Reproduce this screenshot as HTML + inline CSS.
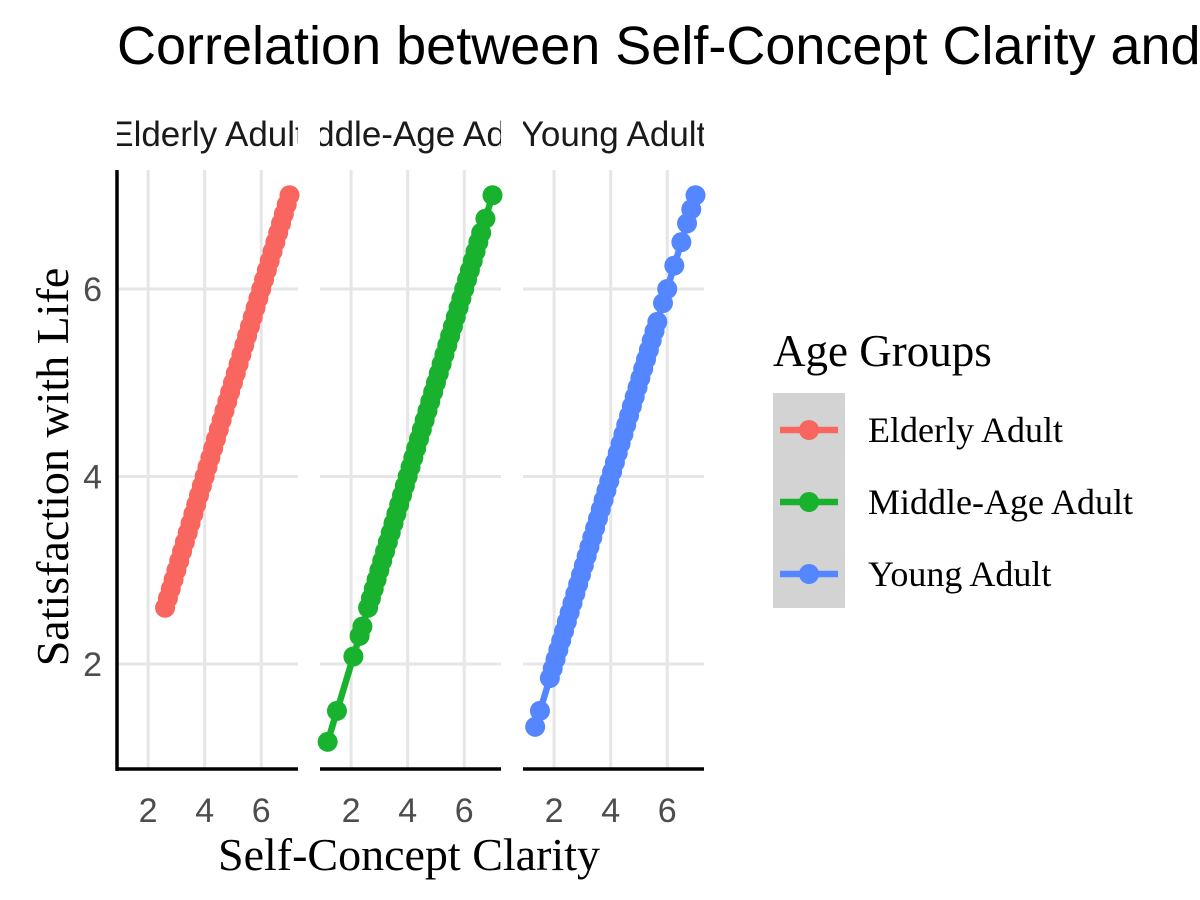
<!DOCTYPE html>
<html><head><meta charset="utf-8"><style>body{margin:0;background:#fff}svg{display:block}</style></head>
<body>
<svg id="chart" width="1200" height="900" xmlns="http://www.w3.org/2000/svg">
<defs>
<clipPath id="c0"><rect x="117" y="100" width="181" height="60"/></clipPath>
<clipPath id="c1"><rect x="320" y="100" width="181" height="60"/></clipPath>
<clipPath id="c2"><rect x="523" y="100" width="181" height="60"/></clipPath>
</defs>
<text x="117" y="64" font-family="Liberation Sans, sans-serif" font-size="54" fill="#000">Correlation between Self-Concept Clarity and Satisfaction with Life</text>
<g id="plot"></g>
<text transform="translate(68,467) rotate(-90)" text-anchor="middle" font-family="Liberation Serif, serif" font-size="46" fill="#000">Satisfaction with Life</text>
<text x="409" y="870" text-anchor="middle" font-family="Liberation Serif, serif" font-size="46" fill="#000">Self-Concept Clarity</text>
<g>
<text x="773" y="366" font-family="Liberation Serif, serif" font-size="45" fill="#000">Age Groups</text>
<rect x="773" y="393" width="72" height="215" fill="#d3d3d3"/>
<g id="legend-entries"></g>
</g>
</svg>
<script>
const panels = ["Elderly Adult","Middle-Age Adult","Young Adult"];
const colors = ["#F8665F","#19B22E","#5486FF"];
const xTicks = [2,4,6];
const yTicks = [2,4,6];
const elderlyX = [2.6,2.7,2.8,2.9,3.0,3.1,3.2,3.3,3.4,3.5,3.6,3.7,3.8,3.9,4.0,4.1,4.2,4.3,4.4,4.5,4.6,4.7,4.8,4.9,5.0,5.1,5.2,5.3,5.4,5.5,5.6,5.7,5.8,5.9,6.0,6.1,6.2,6.3,6.4,6.5,6.6,6.7,6.8,6.9,7.0];
const elderlyY = [2.6,2.7,2.8,2.9,3.0,3.1,3.2,3.3,3.4,3.5,3.6,3.7,3.8,3.9,4.0,4.1,4.2,4.3,4.4,4.5,4.6,4.7,4.8,4.9,5.0,5.1,5.2,5.3,5.4,5.5,5.6,5.7,5.8,5.9,6.0,6.1,6.2,6.3,6.4,6.5,6.6,6.7,6.8,6.9,7.0];
const middleX = [1.17,1.5,2.08,2.3,2.4,2.6,2.7,2.8,2.9,3.0,3.1,3.2,3.3,3.4,3.5,3.6,3.7,3.8,3.9,4.0,4.1,4.2,4.3,4.4,4.5,4.6,4.7,4.8,4.9,5.0,5.1,5.2,5.3,5.4,5.5,5.6,5.7,5.8,5.9,6.0,6.1,6.2,6.3,6.4,6.5,6.6,6.75,7.0];
const middleY = [1.17,1.5,2.08,2.3,2.4,2.6,2.7,2.8,2.9,3.0,3.1,3.2,3.3,3.4,3.5,3.6,3.7,3.8,3.9,4.0,4.1,4.2,4.3,4.4,4.5,4.6,4.7,4.8,4.9,5.0,5.1,5.2,5.3,5.4,5.5,5.6,5.7,5.8,5.9,6.0,6.1,6.2,6.3,6.4,6.5,6.6,6.75,7.0];
const youngX = [1.33,1.5,1.85,1.95,2.05,2.15,2.25,2.35,2.45,2.55,2.65,2.75,2.85,2.95,3.05,3.15,3.25,3.35,3.45,3.55,3.65,3.75,3.85,3.95,4.05,4.15,4.25,4.35,4.45,4.55,4.65,4.75,4.85,4.95,5.05,5.15,5.25,5.35,5.45,5.55,5.65,5.85,6.0,6.25,6.5,6.7,6.85,7.0];
const youngY = [1.33,1.5,1.85,1.95,2.05,2.15,2.25,2.35,2.45,2.55,2.65,2.75,2.85,2.95,3.05,3.15,3.25,3.35,3.45,3.55,3.65,3.75,3.85,3.95,4.05,4.15,4.25,4.35,4.45,4.55,4.65,4.75,4.85,4.95,5.05,5.15,5.25,5.35,5.45,5.55,5.65,5.85,6.0,6.25,6.5,6.7,6.85,7.0];
const seriesX = [elderlyX, middleX, youngX];
const seriesY = [elderlyY, middleY, youngY];

const NS = "http://www.w3.org/2000/svg";
const panelLeft = [117,320,523], panelW = 181, panelTop = 170, panelBottom = 768;
const xMin = 0.9, xMax = 7.3;
function sx(p, v){ return panelLeft[p] + (v - xMin) / (xMax - xMin) * panelW; }
function sy(v){ return 664 - (v - 2) * 93.75; }
function mk(tag, attrs, parent){ const e = document.createElementNS(NS, tag); for (const k in attrs) e.setAttribute(k, attrs[k]); parent.appendChild(e); return e; }
const plot = document.getElementById("plot");
panels.forEach((name, p) => {
  const g = mk("g", {}, plot);
  
  
  yTicks.forEach(t => {
    const l = mk("line", {x1: panelLeft[p], x2: panelLeft[p]+panelW, y1: sy(t), y2: sy(t), stroke: "#e6e6e6", "stroke-width": 3}, g);
    
    
  });
  xTicks.forEach(t => {
    const l = mk("line", {x1: sx(p,t), x2: sx(p,t), y1: panelTop, y2: panelBottom, stroke: "#e6e6e6", "stroke-width": 3}, g);
    
    
    const tx = mk("text", {x: sx(p,t), y: 822, "text-anchor": "middle", "font-family": "Liberation Sans, sans-serif", "font-size": 34, fill: "#4d4d4d"}, g);
    tx.textContent = t;
    
    
  });
  const strip = mk("text", {x: panelLeft[p] + panelW/2, y: 146, "text-anchor": "middle", "font-family": "Liberation Sans, sans-serif", "font-size": 35, fill: "#1a1a1a", "clip-path": "url(#c" + p + ")"}, g);
  strip.textContent = name;
  
  
  const xs = seriesX[p], ys = seriesY[p];
  const pts = xs.map((v,i) => sx(p,v).toFixed(1) + "," + sy(ys[i]).toFixed(1)).join(" ");
  const line = mk("polyline", {points: pts, fill: "none", stroke: colors[p], "stroke-width": 6.5, "stroke-linejoin": "round"}, g);
  
  
  xs.forEach((v,i) => {
    const c = mk("circle", {cx: sx(p,v), cy: sy(ys[i]), r: 10, fill: colors[p]}, g);
    
    
  });
  const ax = mk("line", {x1: panelLeft[p], x2: panelLeft[p]+panelW, y1: 769, y2: 769, stroke: "#000", "stroke-width": 3.5}, g);
  
  
});
const yax = mk("line", {x1: 117, x2: 117, y1: panelTop, y2: 771, stroke: "#000", "stroke-width": 3.5}, plot);


yTicks.forEach(t => {
  const tx = mk("text", {x: 102, y: sy(t) + 12, "text-anchor": "end", "font-family": "Liberation Sans, sans-serif", "font-size": 34, fill: "#4d4d4d"}, plot);
  tx.textContent = t;
  
  
});
const leg = document.getElementById("legend-entries");
panels.forEach((name, i) => {
  const y = 430 + i * 72;
  const g = mk("g", {}, leg);
  
  
  mk("line", {x1: 780, x2: 838, y1: y, y2: y, stroke: colors[i], "stroke-width": 6.5}, g);
  mk("circle", {cx: 809, cy: y, r: 10, fill: colors[i]}, g);
  const t = mk("text", {x: 868, y: y + 12, "font-family": "Liberation Serif, serif", "font-size": 36, fill: "#000"}, g);
  t.textContent = name;
});
</script>
</body></html>
